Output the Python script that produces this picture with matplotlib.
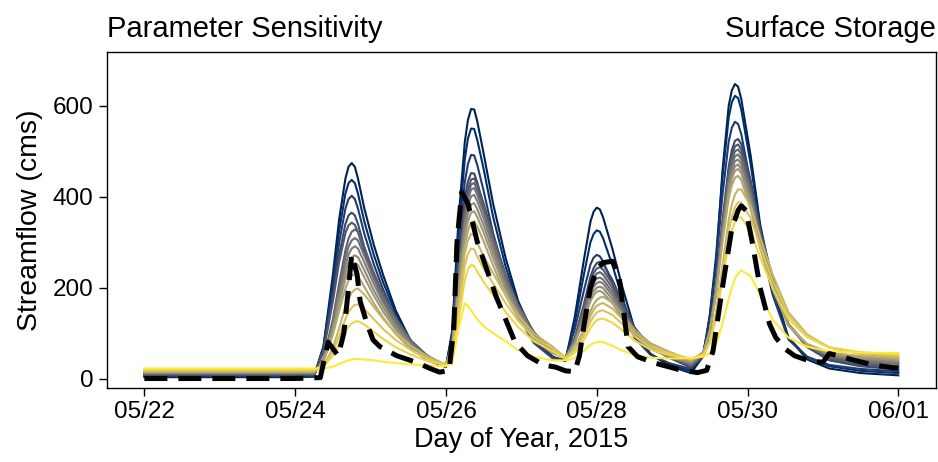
import matplotlib
matplotlib.use('Agg')
import matplotlib.pyplot as plt
import matplotlib.dates as mdates
import numpy as np
import pandas as pd

plt.rcParams['font.family'] = ['Liberation Sans', 'DejaVu Sans']

# hours after 2015-05-22 00:00
start = pd.Timestamp('2015-05-22')
hours = [0, 24, 48, 54,
         57, 60, 62, 64, 65, 66, 67, 68, 70, 73, 76, 80, 85, 90,
         96,
         98, 100, 102, 103, 104, 105, 106, 108, 111, 115, 119, 124, 130,
         134, 137, 140, 142, 143, 144, 145, 146, 149, 152, 156, 161, 167,
         174, 178, 180, 182, 184, 186, 187, 188, 189, 190, 193, 196, 200, 205, 211, 218, 228, 240]

# simulated streamflow (cms), one run per surface storage value
sim00 = [3, 3, 3, 4,
         70, 228, 350, 440, 466, 474, 466, 440, 375, 295, 228, 150, 80, 42, 25,
         105, 350, 520, 569, 593, 592, 565, 495, 385, 265, 170, 95, 48,
         38, 135, 265, 345, 367, 376, 372, 355, 285, 205, 110, 55, 28,
         12, 50, 140, 256, 455, 600, 634, 648, 642, 615, 490, 340, 205, 90, 42, 22, 12, 7]
sim01 = [5, 5, 5, 5,
         70, 212, 325, 407, 430, 437, 430, 407, 346, 273, 212, 143, 78, 44, 26,
         99, 325, 482, 528, 550, 549, 524, 461, 356, 246, 162, 89, 47,
         40, 123, 232, 300, 318, 326, 323, 309, 249, 180, 100, 54, 31,
         17, 59, 138, 271, 441, 574, 608, 622, 617, 592, 471, 332, 199, 90, 47, 27, 17, 12]
sim02 = [6, 6, 6, 6,
         65, 196, 299, 374, 395, 402, 395, 374, 319, 252, 196, 133, 73, 42, 27,
         92, 292, 432, 472, 492, 491, 469, 413, 320, 222, 148, 83, 46,
         41, 108, 196, 251, 266, 272, 269, 258, 210, 154, 90, 53, 34,
         21, 59, 130, 249, 402, 521, 552, 565, 560, 538, 429, 304, 184, 86, 48, 30, 21, 16]
sim03 = [8, 8, 8, 8,
         62, 179, 272, 340, 359, 365, 359, 340, 290, 229, 179, 122, 69, 40, 27,
         87, 269, 397, 434, 452, 451, 431, 380, 295, 206, 138, 78, 44,
         42, 89, 166, 224, 243, 254, 257, 252, 217, 170, 113, 70, 46,
         24, 49, 104, 205, 345, 466, 503, 523, 527, 516, 436, 330, 220, 119, 69, 40, 27, 20]
sim04 = [9, 9, 9, 9,
         59, 169, 256, 320, 337, 343, 338, 322, 278, 222, 174, 121, 70, 44, 28,
         77, 233, 372, 415, 438, 440, 426, 385, 315, 229, 163, 102, 61,
         43, 87, 160, 214, 232, 242, 245, 240, 208, 164, 109, 69, 47,
         27, 51, 105, 202, 339, 456, 491, 511, 515, 504, 426, 324, 217, 120, 71, 43, 30, 24]
sim05 = [10, 10, 10, 10,
         42, 130, 209, 282, 308, 323, 328, 323, 288, 234, 187, 133, 83, 51, 28,
         76, 228, 363, 405, 427, 430, 415, 375, 307, 224, 160, 100, 60,
         44, 86, 154, 205, 222, 231, 234, 229, 199, 157, 106, 69, 48,
         29, 53, 105, 200, 332, 446, 481, 500, 504, 494, 418, 318, 214, 119, 72, 46, 34, 28]
sim06 = [11, 11, 11, 11,
         41, 123, 197, 266, 290, 304, 309, 304, 271, 221, 177, 126, 79, 49, 29,
         75, 223, 354, 394, 416, 419, 404, 366, 300, 219, 157, 99, 60,
         45, 84, 148, 195, 211, 220, 222, 218, 190, 151, 103, 68, 49,
         31, 54, 105, 197, 326, 437, 470, 489, 493, 483, 409, 312, 211, 119, 72, 49, 38, 32]
sim07 = [12, 12, 12, 12,
         40, 117, 187, 250, 273, 286, 291, 286, 256, 209, 167, 120, 76, 48, 29,
         74, 215, 341, 380, 401, 404, 390, 353, 289, 211, 152, 96, 59,
         45, 82, 142, 187, 202, 210, 213, 209, 182, 145, 100, 67, 48,
         33, 55, 105, 194, 320, 427, 460, 478, 482, 472, 400, 306, 208, 118, 73, 51, 41, 35]
sim08 = [13, 13, 13, 13,
         39, 111, 175, 234, 255, 267, 271, 267, 239, 195, 157, 113, 72, 46, 29,
         71, 206, 326, 363, 383, 386, 372, 337, 277, 202, 146, 93, 57,
         46, 80, 136, 179, 192, 200, 202, 199, 174, 140, 97, 66, 49,
         35, 57, 105, 192, 313, 418, 449, 467, 471, 461, 392, 300, 205, 118, 74, 53, 44, 38]
sim09 = [14, 14, 14, 14,
         38, 104, 164, 219, 238, 250, 254, 250, 223, 183, 147, 107, 69, 45, 30,
         70, 198, 311, 346, 365, 368, 355, 321, 265, 194, 141, 90, 57,
         46, 78, 131, 170, 183, 191, 193, 189, 166, 134, 94, 65, 49,
         37, 58, 105, 189, 308, 409, 440, 457, 461, 452, 384, 295, 202, 117, 75, 55, 46, 41]
sim10 = [15, 15, 15, 15,
         36, 96, 149, 198, 216, 226, 230, 226, 202, 166, 134, 98, 64, 43, 30,
         68, 187, 293, 325, 343, 346, 334, 302, 249, 183, 133, 86, 55,
         46, 67, 110, 148, 163, 173, 178, 180, 167, 142, 108, 78, 59,
         39, 59, 104, 185, 299, 396, 425, 442, 446, 437, 372, 287, 197, 116, 76, 57, 49, 44]
sim11 = [16, 16, 16, 16,
         27, 67, 111, 158, 176, 189, 196, 198, 185, 158, 131, 100, 71, 49, 30,
         59, 160, 275, 304, 318, 316, 298, 269, 232, 183, 139, 99, 70,
         46, 65, 104, 137, 151, 160, 164, 166, 154, 132, 101, 75, 58,
         41, 52, 82, 146, 247, 349, 383, 405, 416, 416, 379, 311, 229, 146, 97, 68, 54, 47]
sim12 = [18, 18, 18, 18,
         27, 59, 93, 131, 146, 156, 162, 163, 153, 131, 109, 85, 62, 44, 30,
         56, 145, 248, 274, 286, 284, 268, 242, 209, 166, 127, 91, 66,
         45, 62, 95, 125, 137, 145, 149, 150, 140, 121, 93, 70, 56,
         43, 53, 81, 139, 232, 325, 356, 377, 388, 387, 353, 291, 215, 139, 95, 69, 56, 50]
sim13 = [20, 20, 20, 20,
         26, 50, 75, 103, 114, 121, 125, 126, 119, 103, 87, 69, 52, 39, 29,
         51, 128, 217, 240, 250, 248, 235, 212, 184, 146, 113, 82, 60,
         43, 57, 86, 111, 121, 128, 131, 132, 123, 107, 84, 64, 52,
         44, 53, 78, 131, 215, 298, 326, 345, 355, 354, 323, 267, 199, 131, 91, 68, 58, 53]
sim14 = [22, 22, 22, 22,
         22, 26, 32, 38, 40, 42, 43, 43, 42, 40, 37, 34, 31, 29, 27,
         35, 110, 166, 160, 150, 140, 130, 115, 100, 82, 62, 48, 40,
         40, 45, 62, 74, 78, 80, 81, 80, 72, 62, 52, 46, 44,
         45, 48, 55, 75, 120, 175, 199, 220, 231, 238, 225, 185, 130, 90, 70, 60, 57, 56]

sims = [sim00, sim01, sim02, sim03, sim04, sim05, sim06, sim07,
        sim08, sim09, sim10, sim11, sim12, sim13, sim14]

# observed streamflow
obs_hours = [0, 24, 48, 56, 58.5, 61.7, 63.5, 65, 66, 67.7, 68.7, 70.9, 72.8, 75, 80.4, 86.8,
             91, 94, 97, 98.5, 99.5, 101, 103, 106, 109, 112, 115, 118, 122, 127, 131,
             134, 137, 138.5, 140, 142, 144, 146, 149, 151, 152.5, 154, 157, 162, 170,
             176, 179, 181, 184, 187, 189, 190, 191.5, 193.5, 196, 199, 201, 204, 207, 212,
             216, 218, 222, 226, 232, 238, 240]
obs_flow = [0, 0, 0, 2, 80, 50, 100, 200, 272, 230, 170, 120, 85, 70, 50, 35,
            22, 14, 18, 110, 300, 410, 385, 300, 240, 180, 130, 80, 50, 30, 25,
            17, 15, 50, 120, 200, 240, 255, 258, 230, 150, 70, 48, 35, 20,
            13, 18, 60, 200, 330, 370, 380, 370, 300, 200, 120, 90, 65, 50, 38,
            36, 55, 48, 40, 30, 24, 23]

time = start + pd.to_timedelta(hours, unit='h')
obs_time = start + pd.to_timedelta(obs_hours, unit='h')

fig = plt.figure(figsize=(9.38, 4.62), dpi=100)
ax = fig.add_axes([0.1137, 0.160, 0.8842, 0.728])

colors = plt.cm.cividis(np.linspace(0, 1, len(sims)))
for flow, c in zip(sims, colors):
    ax.plot(time, flow, color=c, lw=1.5)
ax.plot(obs_time, obs_flow, color='black', lw=3.6, ls=(0, (4.6, 2.2)))

ax.set_xlim(start - pd.Timedelta(hours=12), start + pd.Timedelta(hours=252))
ax.set_ylim(-21, 719)
ax.set_xticks(pd.date_range('2015-05-22', periods=6, freq='2D'))
ax.xaxis.set_major_formatter(mdates.DateFormatter('%m/%d'))
ax.set_yticks([0, 200, 400, 600])

ax.tick_params(labelsize=17.5, length=5.5, width=1, pad=4)
for sp in ax.spines.values():
    sp.set_linewidth(1)

ax.set_ylabel('Streamflow (cms)', fontsize=20.5, labelpad=7)
ax.set_xlabel('Day of Year, 2015', fontsize=19.5, labelpad=3)
ax.set_title('Parameter Sensitivity', loc='left', fontsize=21, pad=10.5)
ax.set_title('Surface Storage', loc='right', fontsize=21, pad=10.5)

fig.savefig('out.png', dpi=100)
